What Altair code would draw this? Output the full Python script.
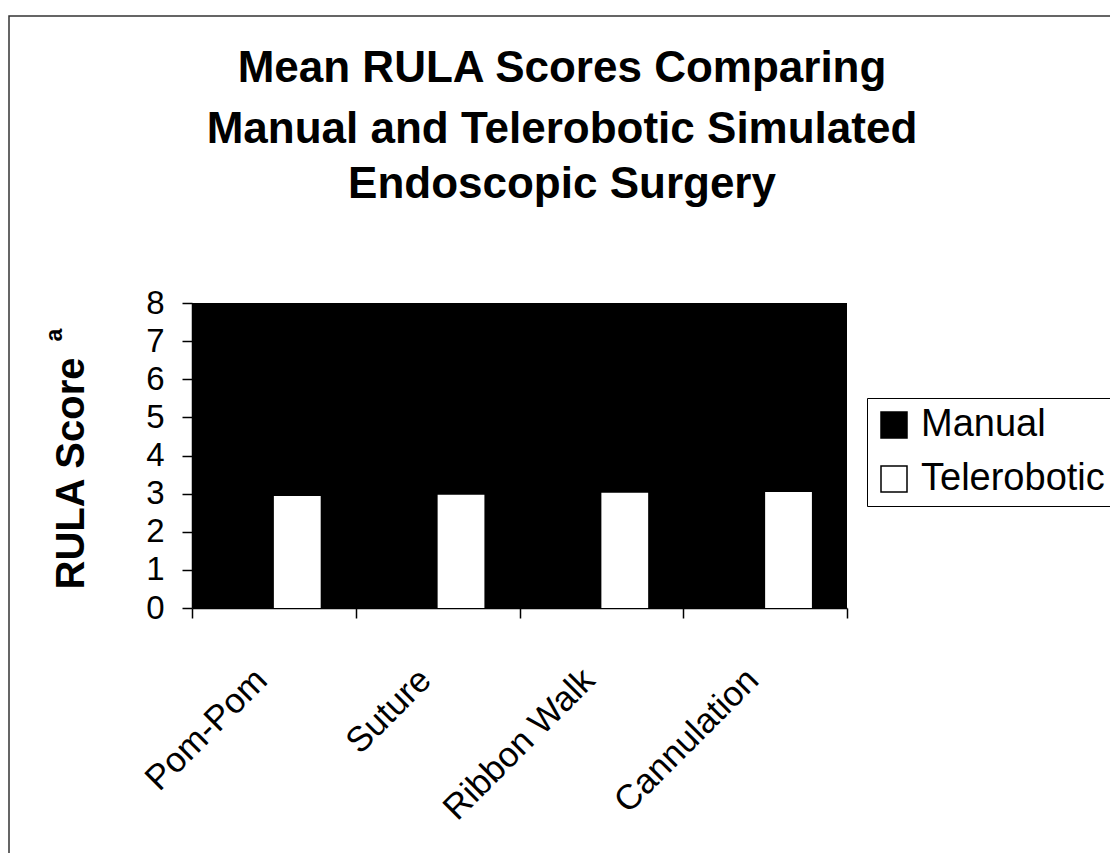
import altair as alt
import pandas as pd

categories = ["Pom-Pom", "Suture", "Ribbon Walk", "Cannulation"]
groups = ["Manual", "Telerobotic"]
manual = [6.45, 6.77, 6.25, 6.10]
telerobotic = [2.94, 2.97, 3.02, 3.04]
title_lines = ["Mean RULA Scores Comparing", "Manual and Telerobotic Simulated", "Endoscopic Surgery"]

rows = []
for c, m, t in zip(categories, manual, telerobotic):
    rows.append({"task": c, "group": "Manual", "score": m})
    rows.append({"task": c, "group": "Telerobotic", "score": t})
df = pd.DataFrame(rows)

FONT = "Liberation Sans"

bars = alt.Chart(df).mark_bar(strokeWidth=0).encode(
    x=alt.X("task:N", sort=categories, title=None,
            scale=alt.Scale(paddingInner=0, paddingOuter=0),
            axis=alt.Axis(labelAngle=-45, labelFontSize=35, labelColor="black",
                          labelPadding=44, labelOffset=-25, labelLimit=400,
                          tickBand="extent", tickSize=10,
                          tickColor="black", domainColor="black", domainWidth=1.5,
                          tickWidth=1.5, grid=False)),
    xOffset=alt.XOffset("group:N", sort=groups,
                        scale=alt.Scale(paddingInner=0, paddingOuter=0.75)),
    y=alt.Y("score:Q", title="RULA Score",
            scale=alt.Scale(domain=[0, 8], nice=False),
            axis=alt.Axis(values=list(range(0, 9)), labelFontSize=33, labelColor="black",
                          labelPadding=18, tickSize=10, tickColor="black", tickWidth=1.5,
                          domainColor="black", domainWidth=1.5, grid=False,
                          titleFontSize=40, titleFontWeight="bold", titleColor="black",
                          titleX=-109, titleY=170, titleBaseline="alphabetic",
                          titleAngle=270)),
    color=alt.Color("group:N", sort=groups,
                    scale=alt.Scale(domain=groups, range=["black", "white"]),
                    legend=alt.Legend(title=None, orient="none", legendX=675, legendY=95,
                                      symbolType="square", symbolSize=676,
                                      symbolStrokeColor="black", symbolStrokeWidth=1.5,
                                      labelFontSize=38, labelColor="black", labelOffset=8,
                                      rowPadding=16, padding=8, strokeColor="black",
                                      fillColor="white", labelLimit=400)),
)

sup = alt.Chart(pd.DataFrame({"t": ["a"]})).mark_text(
    fontSize=23, fontWeight="bold", angle=270, align="center", baseline="middle",
    color="black", font=FONT
).encode(text="t:N", x=alt.value(-137), y=alt.value(32))

title_layers = []
for line, ypos in zip(title_lines, [-221, -160, -105]):
    title_layers.append(
        alt.Chart(pd.DataFrame({"t": [line]})).mark_text(
            fontSize=44, fontWeight="bold", align="center", baseline="alphabetic",
            color="black", font=FONT
        ).encode(text="t:N", x=alt.value(370), y=alt.value(ypos))
    )

frame = alt.Chart(pd.DataFrame({"t": ["frame"]})).mark_rect(
    fill=None, fillOpacity=0, stroke="#333333", strokeWidth=1.5
).encode(x=alt.value(-183), y=alt.value(-287), x2=alt.value(1300), y2=alt.value(1000))

chart = alt.layer(frame, bars, sup, *title_layers).properties(
    width=655, height=305,
    autosize=alt.AutoSizeParams(type="none"),
    padding={"left": 184, "top": 295, "right": 263, "bottom": 245},
).configure(font=FONT).configure_view(fill="black", stroke=None).configure_axis(
    labelFont=FONT, titleFont=FONT
).configure_legend(labelFont=FONT)

chart.save("out.html", embed_options={"renderer": "svg", "actions": False})
